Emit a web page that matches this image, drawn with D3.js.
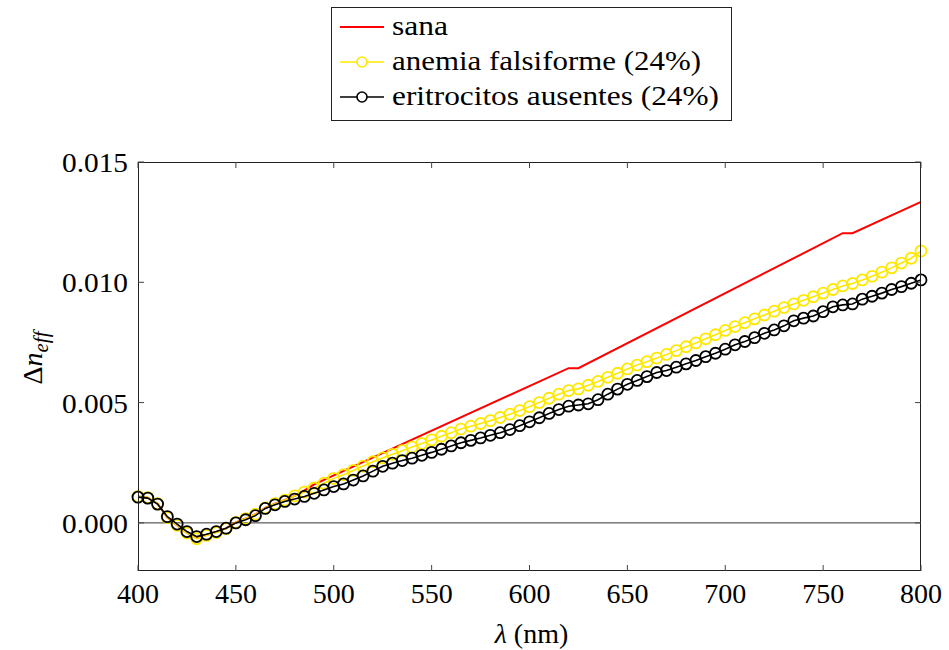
<!DOCTYPE html>
<html><head><meta charset="utf-8">
<script src="https://cdn.jsdelivr.net/npm/d3@7"></script>
<style>body{margin:0;background:#fff}svg{display:block}</style>
</head><body>
<svg id="c" width="949" height="650"></svg>
<script>
const wavelengths = d3.range(400, 801, 5);
const sana_x = [400,405,410,415,420,425,430,435,440,445,450,455,460,465,470,475,480,485,490,620,625,760,765,800];
const sana_y = [0.00110,0.00105,0.00080,0.00022,-0.00010,-0.00042,-0.00064,-0.00050,-0.00038,-0.00023,0.00002,0.00018,0.00036,0.00062,0.00080,0.00095,0.00112,0.00135,0.00160,0.00643,0.00643,0.01204,0.01204,0.01334];
const anemia = [0.00110,0.00105,0.00080,0.00022,-0.00010,-0.00042,-0.00066,-0.00052,-0.00040,-0.00024,0.00002,0.00018,0.00036,0.00062,0.00080,0.00095,0.00112,0.00128,0.00145,0.00165,
0.00185,0.00200,0.00218,0.00236,0.00254,0.00270,0.00285,0.00300,0.00315,0.00330,0.00345,0.00360,0.00375,0.00390,0.00402,0.00413,0.00425,0.00438,0.00452,0.00467,
0.00483,0.00500,0.00518,0.00535,0.00550,0.00557,0.00572,0.00588,0.00605,0.00622,0.00640,0.00656,0.00670,0.00685,0.00700,0.00716,0.00732,0.00748,0.00765,0.00782,
0.00800,0.00816,0.00832,0.00848,0.00864,0.00880,0.00895,0.00910,0.00925,0.00940,0.00955,0.00970,0.00985,0.00995,0.01010,0.01025,0.01042,0.01060,0.01080,0.01100,0.01130];
const ausentes = [0.00107,0.00103,0.00078,0.00026,-0.00005,-0.00036,-0.00057,-0.00047,-0.00036,-0.00022,0.00000,0.00013,0.00030,0.00060,0.00075,0.00089,0.00099,0.00110,0.00123,0.00137,
0.00151,0.00162,0.00178,0.00195,0.00215,0.00235,0.00248,0.00259,0.00269,0.00281,0.00293,0.00306,0.00320,0.00333,0.00343,0.00353,0.00364,0.00375,0.00388,0.00404,
0.00420,0.00437,0.00455,0.00471,0.00485,0.00490,0.00495,0.00512,0.00535,0.00556,0.00576,0.00592,0.00608,0.00625,0.00633,0.00647,0.00661,0.00675,0.00691,0.00705,
0.00722,0.00740,0.00754,0.00770,0.00788,0.00802,0.00819,0.00840,0.00851,0.00860,0.00878,0.00898,0.00906,0.00910,0.00930,0.00942,0.00955,0.00970,0.00982,0.00996,0.01010];
const xTicks = [400,450,500,550,600,650,700,750,800];
const yTicks = [0,0.005,0.010,0.015];
const legendLabels = ["sana","anemia falsiforme (24%)","eritrocitos ausentes (24%)"];
const colors = ["#ff0000","#ffe800","#000000"];

const svg = d3.select("#c");
const font = "'Liberation Serif', 'DejaVu Serif', serif";
const L=138, R=921, T=162, B=571;
const x = d3.scaleLinear().domain([400,800]).range([L,R]);
const y = d3.scaleLinear().domain([-0.002,0.015]).range([B,T]);

svg.append("line").attr("x1",L).attr("x2",R).attr("y1",y(0)).attr("y2",y(0)).attr("stroke","#333").attr("stroke-width",1);

const line = d3.line().x(d=>x(d[0])).y(d=>y(d[1]));
const g = svg.append("g");
g.append("path").datum(sana_x.map((v,i)=>[v,sana_y[i]])).attr("d",line).attr("fill","none").attr("stroke",colors[0]).attr("stroke-width",2);
function series(vals,col){
  const data = wavelengths.map((w,i)=>[w,vals[i]]);
  g.append("path").datum(data).attr("d",line).attr("fill","none").attr("stroke",col).attr("stroke-width",1.6);
  g.selectAll(null).data(data).enter().append("circle").attr("cx",d=>x(d[0])).attr("cy",d=>y(d[1])).attr("r",5.5)
    .attr("fill","none").attr("stroke",col).attr("stroke-width",1.8);
}
series(anemia,colors[1]);
series(ausentes,colors[2]);

svg.append("rect").attr("x",L+0.5).attr("y",T+0.5).attr("width",R-L-1).attr("height",B-T-1).attr("fill","none").attr("stroke","#222").attr("stroke-width",1);
const tk=6;
xTicks.forEach(t=>{
  svg.append("line").attr("x1",x(t)).attr("x2",x(t)).attr("y1",B).attr("y2",B-tk).attr("stroke","#444");
  svg.append("line").attr("x1",x(t)).attr("x2",x(t)).attr("y1",T).attr("y2",T+tk).attr("stroke","#444");
  svg.append("text").attr("x",x(t)).attr("y",B+32).attr("text-anchor","middle").attr("font-family",font).attr("font-size",28).text(t);
});
yTicks.forEach(t=>{
  svg.append("line").attr("x1",L).attr("x2",L+tk).attr("y1",y(t)).attr("y2",y(t)).attr("stroke","#444");
  svg.append("line").attr("x1",R).attr("x2",R-tk).attr("y1",y(t)).attr("y2",y(t)).attr("stroke","#444");
  svg.append("text").attr("x",L-10).attr("y",y(t)+10).attr("text-anchor","end").attr("font-family",font).attr("font-size",28)
    .attr("textLength",66).attr("lengthAdjust","spacingAndGlyphs").text(d3.format(".3f")(t));
});
const xl = svg.append("text").attr("x",(L+R)/2+2).attr("y",643).attr("text-anchor","middle").attr("font-family",font).attr("font-size",28);
xl.append("tspan").attr("font-style","italic").text("λ");
xl.append("tspan").text(" (nm)");
const yl = svg.append("text").attr("transform","translate(42,358) rotate(-90)").attr("text-anchor","middle").attr("font-family",font).attr("font-size",28);
yl.append("tspan").text("Δ");
yl.append("tspan").attr("font-style","italic").text("n");
yl.append("tspan").attr("font-style","italic").attr("font-size",21).attr("dy",6).text("eff");

svg.append("rect").attr("x",331.5).attr("y",7.5).attr("width",400).attr("height",113).attr("fill","#fff").attr("stroke","#222");
const legendWidths = [56, 309, 327];
legendLabels.forEach((lab,i)=>{
  const cy = 27 + i*35;
  svg.append("line").attr("x1",340).attr("x2",384).attr("y1",cy).attr("y2",cy).attr("stroke",colors[i]).attr("stroke-width",i===0?2:1.6);
  if(i>0) svg.append("circle").attr("cx",362).attr("cy",cy).attr("r",5).attr("fill","#fff").attr("stroke",colors[i]).attr("stroke-width",1.6);
  svg.append("text").attr("x",392).attr("y",cy+8).attr("font-family",font).attr("font-size",28)
    .attr("textLength",legendWidths[i]).attr("lengthAdjust","spacingAndGlyphs").text(lab);
});
</script>
</body></html>
